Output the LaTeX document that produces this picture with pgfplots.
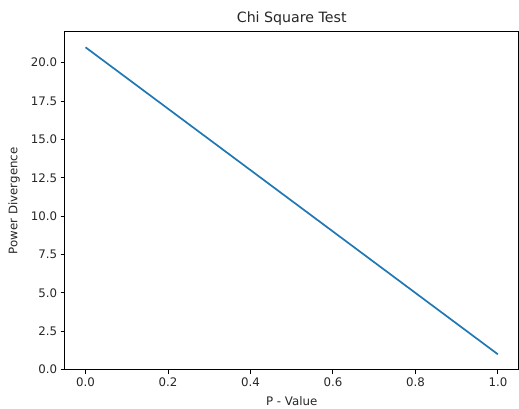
\documentclass[border=0pt]{standalone}
\usepackage{fontspec}
\setmainfont{DejaVu Sans}
\usepackage{pgfplots}
\pgfplotsset{compat=1.18}
\definecolor{mplblue}{HTML}{1F77B4}
\definecolor{mpltext}{HTML}{262626}
\begin{document}
\begin{tikzpicture}
\begin{axis}[
  scale only axis, width=454pt, height=338pt,
  at={(0,0)}, anchor=south west,
  xmin=-0.05, xmax=1.05, ymin=0, ymax=22,
  xtick={0,0.2,0.4,0.6,0.8,1.0},
  ytick={0,2.5,5,7.5,10,12.5,15,17.5,20},
  /pgf/number format/assume math mode=true,
  xticklabel style={/pgf/number format/.cd, fixed, fixed zerofill, precision=1},
  yticklabel style={/pgf/number format/.cd, fixed, fixed zerofill, precision=1},
  tick align=outside, major tick length=4.4pt,
  xtick pos=bottom, ytick pos=left,
  tick style={black, line width=1pt},
  axis line style={line width=1pt},
  every tick label/.append style={font=\fontsize{11.8}{14}\selectfont, text=mpltext},
  every axis title/.style={at={(axis description cs:0.5,1.0266)}, anchor=base,
    font=\fontsize{14.2}{17}\selectfont, text=mpltext},
  every axis x label/.style={at={(axis description cs:0.5,-0.0917)}, anchor=center,
    font=\fontsize{11.8}{14}\selectfont, text=mpltext},
  every axis y label/.style={at={(axis description cs:-0.112,0.5)}, rotate=90, anchor=center,
    font=\fontsize{11.8}{14}\selectfont, text=mpltext},
  title={Chi Square Test},
  xlabel={P - Value},
  ylabel={Power Divergence},
]
\addplot[mplblue, line width=1.7pt] coordinates {(0,21) (1,1)};
\end{axis}
\path (-65pt,-38pt) rectangle (454pt,370pt);
\end{tikzpicture}
\end{document}
